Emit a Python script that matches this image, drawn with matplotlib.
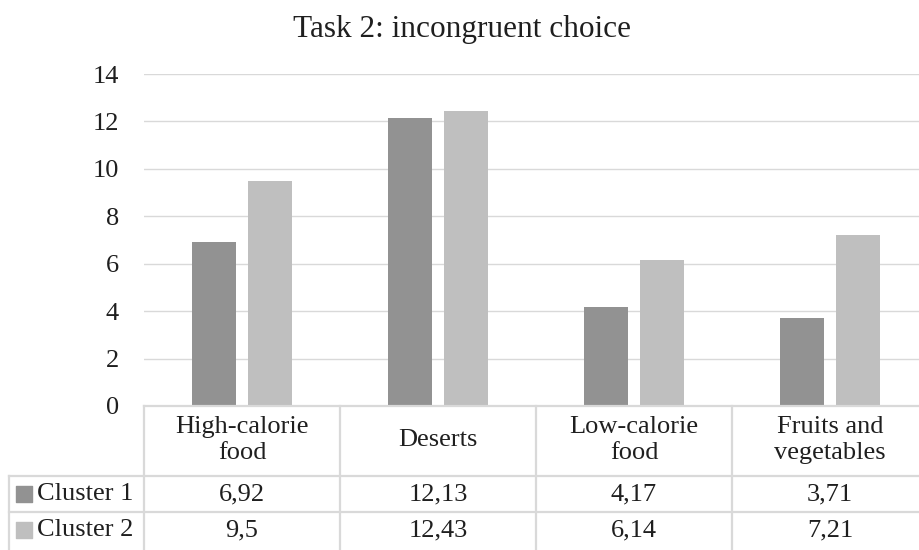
import numpy as np
import matplotlib
matplotlib.use("Agg")
import matplotlib.pyplot as plt

categories = ["High-calorie\nfood", "Deserts", "Low-calorie\nfood", "Fruits and\nvegetables"]
series = ["Cluster 1", "Cluster 2"]
cluster1 = [6.92, 12.13, 4.17, 3.71]
cluster2 = [9.5, 12.43, 6.14, 7.21]
yticks = [0, 2, 4, 6, 8, 10, 12, 14]

colors = ["#929292", "#bfbfbf"]
grid_c = "#d9d9d9"
txt_c = "#1f1f1f"

plt.rcParams["font.family"] = ["Liberation Serif", "DejaVu Serif"]

W, H = 919, 550
fig = plt.figure(figsize=(W / 100, H / 100), dpi=100)

# plot area in pixels: left 144, bottom line at 406, top at 74, category width 196
cw = 196.0
ax_l, ax_top, ax_bot = 144.0, 74.0, 406.0
n = len(categories)
ax = fig.add_axes([ax_l / W, 1 - ax_bot / H, n * cw / W, (ax_bot - ax_top) / H])
ax.set_xlim(-0.5, n - 0.5)
ax.set_ylim(0, 14)

x = np.arange(n)
bw = 44 / cw
off = 28 / cw
ax.bar(x - off, cluster1, bw, color=colors[0], zorder=3)
ax.bar(x + off, cluster2, bw, color=colors[1], zorder=3)

ax.set_yticks(yticks)
ax.set_yticklabels([str(t) for t in yticks], fontsize=19, color=txt_c)
ax.set_xticks([])
ax.tick_params(axis="y", length=0, pad=18)
for s in ax.spines.values():
    s.set_visible(False)
ax.yaxis.grid(True, color=grid_c, lw=1.0, zorder=0)

fig.text(462 / W, 1 - 29 / H, "Task 2: incongruent choice", fontsize=22.5,
         ha="center", va="center", color=txt_c)

# data table under the axis
def xd(px):
    return (px - ax_l) / cw - 0.5

def ya(py):
    return (ax_bot - py) / (ax_bot - ax_top)

trans = ax.get_xaxis_transform()
row_tops = [476, 512]
row_mid = [494, 530]
left_px = 9
for yy in [ax_bot] + row_tops:
    x0 = ax_l if yy == ax_bot else left_px
    ax.plot([xd(x0), n], [ya(yy), ya(yy)], color=grid_c, lw=1.6,
            clip_on=False, transform=trans, zorder=4)
ax.plot([xd(left_px)] * 2, [ya(row_tops[0]), ya(H + 5)], color=grid_c, lw=1.6,
        clip_on=False, transform=trans)
for i in range(n + 1):
    ax.plot([i - 0.5] * 2, [ya(ax_bot), ya(H + 5)], color=grid_c, lw=1.6,
            clip_on=False, transform=trans)

for i, c in enumerate(categories):
    ax.text(i, ya(440), c, transform=trans, ha="center", va="center",
            fontsize=19, linespacing=1.25, color=txt_c)

for r, (name, vals) in enumerate(zip(series, [cluster1, cluster2])):
    yy = ya(row_mid[r])
    ax.scatter([xd(24)], [yy], marker="s", s=120, color=colors[r],
               transform=trans, clip_on=False)
    ax.text(xd(37), yy, name, transform=trans, ha="left", va="center",
            fontsize=19, color=txt_c)
    for i, v in enumerate(vals):
        label = f"{v:g}".replace(".", ",")
        ax.text(i, yy, label, transform=trans, ha="center", va="center",
                fontsize=19, color=txt_c)

fig.savefig("out.png", dpi=100)
